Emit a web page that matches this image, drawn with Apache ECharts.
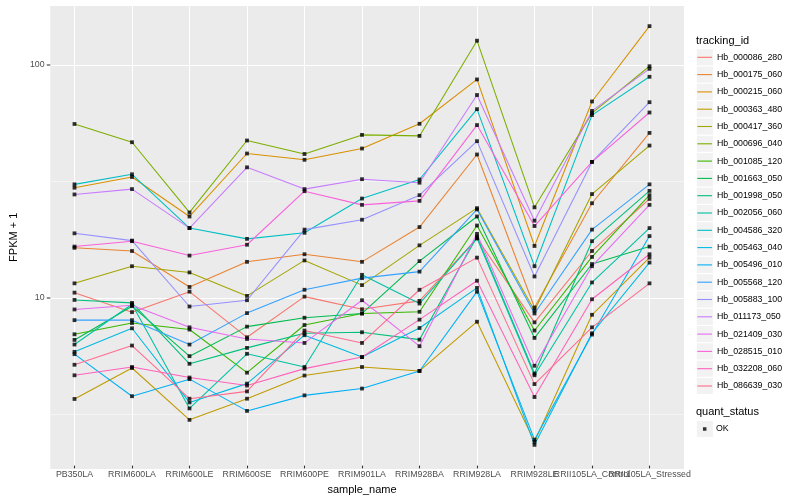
<!DOCTYPE html>
<html><head><meta charset="utf-8">
<script src="https://cdn.jsdelivr.net/npm/echarts@6/dist/echarts.min.js"></script>
<style>html,body{margin:0;padding:0;background:#fff}#c{width:800px;height:500px}</style>
</head><body><div id="c"></div>
<script>
const categories = ['PB350LA','RRIM600LA','RRIM600LE','RRIM600SE','RRIM600PE','RRIM901LA','RRIM928BA','RRIM928LA','RRIM928LE','RRII105LA_Control','RRII105LA_Stressed'];
const trackingIds = ['Hb_000086_280','Hb_000175_060','Hb_000215_060','Hb_000363_480','Hb_000417_360','Hb_000696_040','Hb_001085_120','Hb_001663_050','Hb_001998_050','Hb_002056_060','Hb_004586_320','Hb_005463_040','Hb_005496_010','Hb_005568_120','Hb_005883_100','Hb_011173_050','Hb_021409_030','Hb_028515_010','Hb_032208_060','Hb_086639_030'];
const colors = ['#F8766D','#EA8331','#D89000','#C09B00','#A3A500','#7CAE00','#39B600','#00BB4E','#00BF7D','#00C1A3','#00BFC4','#00BAE0','#00B0F6','#35A2FF','#9590FF','#C77CFF','#E76BF3','#FA62DB','#FF62BC','#FF6C91'];
const yTickLabels = [10, 100];

const Hb_000086_280 = [10.3, 8.48, 10.4, 6.60, 9.90, 8.73, 9.49, 17.7, 7.66, 15.6, 26.2];
const Hb_000175_060 = [16.1, 15.6, 10.9, 14.0, 15.1, 14.0, 19.8, 40.8, 8.88, 25.1, 50.6];
const Hb_000215_060 = [29.3, 32.6, 22.0, 41.2, 38.7, 43.3, 55.4, 86.2, 16.4, 69.2, 146.6];
const Hb_000363_480 = [3.57, 4.86, 2.90, 3.58, 4.51, 4.91, 4.72, 7.71, 2.33, 8.26, 14.6];
const Hb_000417_360 = [11.3, 13.4, 12.6, 9.97, 14.2, 11.1, 16.5, 23.9, 8.62, 27.5, 44.6];
const Hb_000696_040 = [55.3, 46.1, 22.9, 46.9, 41.0, 49.6, 49.1, 126.8, 24.1, 61.6, 98.3];
const Hb_001085_120 = [6.80, 7.61, 7.13, 4.64, 7.46, 8.37, 8.51, 20.1, 7.06, 14.7, 27.2];
const Hb_001663_050 = [6.43, 9.00, 5.47, 7.34, 8.02, 8.37, 14.1, 22.0, 6.56, 13.7, 16.3];
const Hb_001998_050 = [9.58, 9.30, 5.07, 5.94, 6.87, 6.94, 6.45, 18.0, 4.60, 17.2, 28.4];
const Hb_002056_060 = [6.14, 9.18, 3.25, 5.60, 4.91, 12.3, 9.24, 17.7, 4.52, 11.4, 19.6];
const Hb_004586_320 = [30.3, 33.5, 19.6, 17.6, 18.7, 26.3, 31.8, 64.1, 13.4, 60.4, 88.5];
const Hb_005463_040 = [5.71, 7.22, 3.45, 4.16, 6.74, 5.42, 7.24, 10.8, 2.26, 6.87, 13.9];
const Hb_005496_010 = [5.58, 3.67, 4.35, 3.17, 3.70, 3.96, 4.72, 10.4, 2.38, 6.78, 18.1];
const Hb_005568_120 = [7.83, 7.83, 6.14, 8.40, 10.6, 11.9, 12.7, 23.6, 8.37, 19.3, 30.3];
const Hb_005883_100 = [18.6, 17.3, 8.97, 9.55, 19.3, 21.3, 27.2, 46.6, 12.1, 37.9, 68.7];
const Hb_011173_050 = [27.4, 28.9, 19.6, 35.9, 28.9, 31.9, 30.8, 73.8, 21.1, 63.0, 95.8];
const Hb_021409_030 = [8.71, 9.09, 7.29, 6.49, 6.24, 9.55, 6.04, 18.5, 4.97, 13.4, 24.7];
const Hb_028515_010 = [16.3, 17.2, 14.9, 16.6, 28.3, 24.7, 25.7, 54.7, 20.0, 37.9, 62.0];
const Hb_032208_060 = [4.52, 4.91, 4.42, 4.08, 4.83, 5.42, 7.87, 11.6, 3.64, 9.64, 15.1];
const Hb_086639_030 = [5.02, 6.08, 3.58, 3.85, 7.06, 6.24, 10.6, 14.6, 4.14, 7.29, 11.3];

const seriesValues = [Hb_000086_280, Hb_000175_060, Hb_000215_060, Hb_000363_480, Hb_000417_360, Hb_000696_040, Hb_001085_120, Hb_001663_050, Hb_001998_050, Hb_002056_060, Hb_004586_320, Hb_005463_040, Hb_005496_010, Hb_005568_120, Hb_005883_100, Hb_011173_050, Hb_021409_030, Hb_028515_010, Hb_032208_060, Hb_086639_030];

const FONT = 'Liberation Sans, Arial, Helvetica, sans-serif';
const yMin = 1.838, yMax = 180.6;
const panel = {left: 40, top: 5.2, width: 644, height: 464.2};
const unit = panel.width / (categories.length - 1 + 1.2);

const lineSeries = trackingIds.map((id, i) => ({
  name: id, type: 'line', xAxisIndex: 1, yAxisIndex: 2,
  data: seriesValues[i], symbol: 'none', z: 2, silent: true,
  lineStyle: {color: colors[i], width: 1.07},
  itemStyle: {color: colors[i]}
}));
const pointData = [];
seriesValues.forEach(vals => vals.forEach((v, j) => pointData.push([categories[j], v])));

const keyPitch = 17.3;
const legendTop = 57.3 - keyPitch / 2;
const okCenter = 429;
const keys = [];
for (let i = 0; i < trackingIds.length; i++) {
  keys.push({type: 'rect', shape: {x: 696.8, y: legendTop + 0.6 + keyPitch * i, width: 16.1, height: 16.1}, style: {fill: '#F2F2F2'}, silent: true});
}
keys.push({type: 'rect', shape: {x: 696.8, y: okCenter - keyPitch / 2 + 0.6, width: 16.1, height: 16.1}, style: {fill: '#F2F2F2'}, silent: true});

const chart = echarts.init(document.getElementById('c'), null, {renderer: 'canvas'});
chart.setOption({
  animation: false,
  backgroundColor: '#fff',
  textStyle: {fontFamily: FONT},
  title: [
    {text: 'tracking_id', left: 696, top: 35, padding: 0, textStyle: {fontSize: 11, fontWeight: 'normal', color: '#000', fontFamily: FONT}},
    {text: 'quant_status', left: 696, top: 406.8, padding: 0, textStyle: {fontSize: 11, fontWeight: 'normal', color: '#000', fontFamily: FONT}}
  ],
  graphic: {elements: keys},
  grid: [
    {left: panel.left, top: panel.top, width: panel.width, height: panel.height, show: true, backgroundColor: '#EBEBEB', borderWidth: 0},
    {left: panel.left + 0.6 * unit, top: panel.top, width: unit * (categories.length - 1), height: panel.height, show: false}
  ],
  xAxis: [
    {gridIndex: 0, type: 'value', min: 0, max: 1, show: false},
    {gridIndex: 1, type: 'category', data: categories, boundaryGap: false,
     axisLine: {show: false},
     axisTick: {show: true, length: 2.75, interval: 0, lineStyle: {color: '#333333', width: 1.07}},
     axisLabel: {interval: 0, color: '#4D4D4D', fontSize: 8.8, margin: 4.5, fontFamily: FONT},
     splitLine: {show: true, interval: 0, lineStyle: {color: '#ffffff', width: 1.07}},
     name: 'sample_name', nameLocation: 'middle', nameGap: 14,
     nameTextStyle: {color: '#000', fontSize: 11, fontFamily: FONT}}
  ],
  yAxis: [
    {gridIndex: 0, type: 'log', logBase: 10, min: yMin, max: yMax,
     axisLine: {show: false}, axisTick: {show: false},
     axisLabel: {margin: 0, formatter: v => {
        const m = yTickLabels.find(t => Math.abs(t - v) / t < 1e-6);
        return m ? '{v|' + m + '}{t|}' : '';
      },
      rich: {
        v: {color: '#4D4D4D', fontSize: 8.8, fontFamily: FONT, padding: [0, 2.2, 0, 0], verticalAlign: 'middle'},
        t: {width: 3.5, height: 1.07, backgroundColor: '#333333', verticalAlign: 'middle'}
      }},
     splitLine: {show: true, lineStyle: {color: '#ffffff', width: 1.07}},
     name: 'FPKM + 1', nameLocation: 'middle', nameRotate: 90, nameGap: 22,
     nameTextStyle: {color: '#000', fontSize: 11, fontFamily: FONT}},
    {gridIndex: 0, type: 'log', logBase: Math.sqrt(10), min: yMin, max: yMax,
     axisLine: {show: false}, axisTick: {show: false}, axisLabel: {show: false},
     splitLine: {show: true, lineStyle: {color: '#ffffff', width: 0.53}}},
    {gridIndex: 1, type: 'log', logBase: 10, min: yMin, max: yMax, show: false}
  ],
  legend: [
    {data: trackingIds, orient: 'vertical', left: 697.3, top: legendTop, itemWidth: 14.7, itemHeight: 1.1, itemGap: 0,
     icon: 'rect', padding: 0, selectedMode: false,
     textStyle: {fontSize: 8.8, color: '#000', lineHeight: keyPitch, fontFamily: FONT}},
    {data: [{name: 'OK', icon: 'rect', itemStyle: {color: '#000'}}], orient: 'vertical', left: 702.95, top: okCenter - keyPitch / 2,
     itemWidth: 3.5, itemHeight: 3.5, itemGap: 0, padding: 0, selectedMode: false,
     textStyle: {fontSize: 8.8, color: '#000', lineHeight: keyPitch, fontFamily: FONT, padding: [0, 0, 0, 4.5]}}
  ],
  series: lineSeries.concat([{
    name: 'OK', type: 'scatter', xAxisIndex: 1, yAxisIndex: 2, data: pointData,
    symbol: 'rect', symbolSize: 3.8, itemStyle: {color: '#000'}, z: 3, silent: true
  }])
});
</script></body></html>
